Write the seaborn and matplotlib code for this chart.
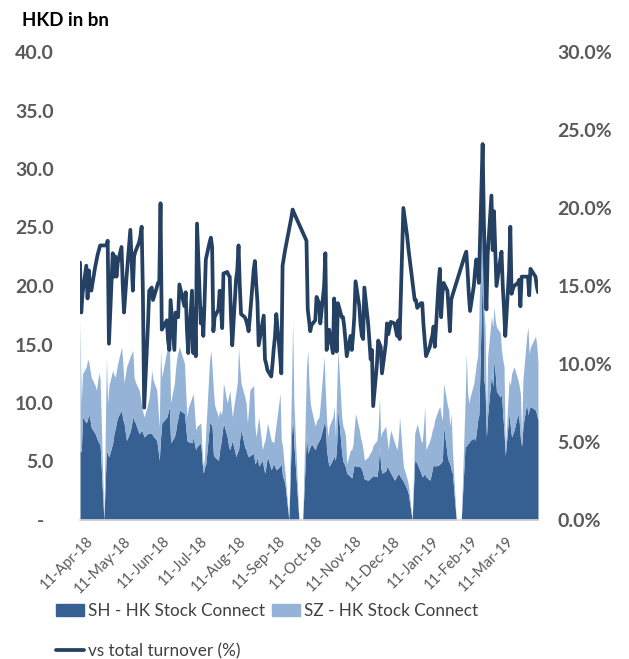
"""
plot.py
Northbound Stock Connect daily turnover (SH / SZ, HKD bn) with share of total turnover.
"""

import numpy as np
import pandas as pd
import matplotlib
matplotlib.use("Agg")
import matplotlib.pyplot as plt
import matplotlib.dates as mdates
from matplotlib.ticker import FuncFormatter
from matplotlib.patches import Patch
from matplotlib.lines import Line2D
from matplotlib.transforms import ScaledTranslation
import seaborn as sns

SH_COLOR   = "#376092"
SZ_COLOR   = "#95B3D7"
LINE_COLOR = "#244062"
TICK_COLOR = "#595959"

# HK market holidays (weekdays) in the window; northbound-closed days stay in with zeros
HK_HOLIDAYS = ["2018-05-01", "2018-05-22", "2018-06-18", "2018-07-02", "2018-09-25",
               "2018-10-01", "2018-10-17", "2018-12-25", "2018-12-26", "2019-01-01",
               "2019-02-05", "2019-02-06", "2019-02-07", "2019-04-05"]
XTICKS = ["2018-04-11", "2018-05-11", "2018-06-11", "2018-07-11", "2018-08-11",
          "2018-09-11", "2018-10-11", "2018-11-11", "2018-12-11", "2019-01-11",
          "2019-02-11", "2019-03-11"]

nan = np.nan

# SH - HK Stock Connect, HKD bn (one value per trading day, month by month)
sh = [
    6.0, 5.8, 8.8, 8.3, 8.6, 9.1, 8.5, 7.9, 7.4, 7.1, 6.8, 6.6, 6.4, 0,                        # Apr-18
    6.0, 5.6, 5.4, 6.6, 7.4, 7.8, 8.4, 8.8, 9.4, 8.6, 8.3, 7.5, 6.8, 7.6, 8.8, 8.5, 8.3, 7.4,
    7.5, 7.7, 7.4,                                                                          # May-18
    7.1, 7.4, 7.4, 7.4, 7.4, 7.2, 6.8, 6.0, 5.1, 7.0, 8.3, 8.8, 9.2, 9.7, 6.6, 7.1, 7.6, 8.3,
    8.8, 9.4,                                                                               # Jun-18
    9.1, 8.0, 6.8, 6.7, 6.6, 7.1, 6.5, 6.0, 6.3, 6.6, 5.0, 4.0, 4.5, 4.8, 8.3, 8.2, 8.0, 5.6,
    5.4, 5.1, 6.0,                                                                          # Jul-18
    6.6, 7.5, 8.3, 7.1, 6.4, 6.0, 6.4, 6.8, 5.4, 5.8, 6.0, 7.0, 7.7, 6.2, 6.0, 5.6, 5.4, 5.5,
    5.7, 4.8, 5.0, 5.4, 4.6,                                                                # Aug-18
    5.1, 4.4, 4.0, 4.8, 5.4, 4.3, 4.6, 4.8, 4.5, 4.3, 4.6, 4.8, 3.7, 3.5, 3.0, 0, 7.0, 9.0,
    6.5,                                                                                    # Sep-18
    0, 0, 0, 0, 7.4, 5.7, 6.0, 6.3, 6.5, 6.0, 6.4, 6.8, 7.0, 8.3, 8.0, 6.0, 5.1, 4.6, 5.2,
    5.5, 5.1,                                                                               # Oct-18
    6.5, 9.5, 5.7, 5.0, 4.8, 4.5, 4.0, 3.7, 3.6, 4.2, 4.8, 4.6, 4.6, 4.5, 4.3, 3.9, 3.5, 3.4,
    3.5, 3.6, 3.7, 3.8,                                                                     # Nov-18
    3.7, 4.5, 6.3, 4.5, 4.0, 4.2, 4.6, 4.4, 4.2, 4.0, 3.4, 3.6, 3.8, 4.0, 3.8, 3.3, 2.6, 2.2,
    0,                                                                                      # Dec-18
    5.1, 5.0, 4.8, 4.0, 3.7, 3.8, 4.0, 3.7, 3.4, 3.8, 4.4, 4.8, 4.6, 4.7, 4.8, 4.9, 5.1, 8.0,
    5.4, 5.0, 4.8, 4.3,                                                                     # Jan-19
    4.0, 0, 0, 6.3, 6.3, 6.5, 6.6, 6.8, 7.0, 6.8, 7.5, 8.5, 9.0, 22.5, 12.0, 11.0, 7.1,      # Feb-19
    9.0, 12.5, 11.4, 13.7, 12.5, 11.0, 10.5, 10.8, 9.0, 7.5, 5.5, 9.1, 8.0, 7.1, 7.4, 7.7,
    9.1, 8.5, 7.0, 6.3, 8.0,                                                                # Mar-19
    10.0, 9.0, 9.5, 9.7, 9.4, 9.0, 8.5,                                                     # Apr-19
]

# SZ - HK Stock Connect, HKD bn
sz = [
    11.1, 4.2, 3.7, 4.8, 5.1, 4.4, 4.3, 4.3, 4.1, 4.0, 5.0, 6.0, 5.6, 0,
    7.9, 4.4, 6.1, 6.2, 5.0, 4.4, 4.4, 4.6, 5.4, 4.9, 3.4, 4.9, 6.3, 6.4, 5.7, 3.7, 3.5, 3.7,
    3.0, 2.0, 1.8,
    1.7, 2.6, 3.1, 4.1, 5.4, 4.8, 4.3, 3.5, 2.8, 7.5, 3.9, 5.7, 5.8, 5.9, 3.4, 4.6, 5.4, 5.6,
    5.6, 5.4,
    4.3, 3.0, 2.0, 2.9, 3.9, 3.7, 2.7, 1.7, 1.7, 1.7, 1.0, 0.5, 0.9, 2.9, 5.4, 6.3, 5.0, 5.5,
    4.4, 3.7, 3.4,
    2.4, 1.9, 3.4, 2.9, 4.1, 5.1, 3.6, 2.0, 5.6, 5.9, 8.8, 6.0, 4.0, 4.3, 4.0, 2.7, 4.1, 5.6,
    5.8, 3.2, 2.1, 2.6, 4.2,
    0.9, 2.1, 2.8, 2.7, 2.9, 2.5, 2.1, 1.8, 3.0, 4.0, 6.2, 2.0, 2.6, 1.5, 1.0, 0, 4.0, 8.0,
    3.5,
    0, 0, 0, 0, 5.6, 8.8, 5.7, 3.7, 2.9, 2.0, 2.1, 2.0, 3.0, 5.7, 3.0, 2.5, 2.0, 3.4, 3.6,
    4.2, 2.0,
    4.5, 5.0, 3.1, 3.0, 2.9, 2.7, 0.8, 2.3, 2.4, 2.3, 3.2, 4.5, 3.1, 2.5, 2.3, 2.1, 1.6, 2.0,
    2.1, 2.2, 2.3, 2.6,
    3.1, 3.5, 4.2, 2.6, 3.5, 3.8, 2.4, 1.6, 2.8, 3.7, 3.2, 2.7, 2.2, 3.0, 5.0, 1.3, 0.9, 0.8,
    0,
    2.3, 2.8, 3.4, 2.8, 2.9, 4.2, 5.7, 2.3, 3.4, 3.4, 3.3, 3.2, 4.0, 4.8, 4.9, 4.1, 3.4, 3.7,
    4.4, 4.4, 3.2, 4.8,
    2.0, 0, 0, 3.7, 7.9, 4.5, 3.4, 3.7, 4.7, 5.7, 5.9, 5.5, 8.1, 10.5, 6.0, 5.5, 1.4,
    5.0, 4.9, 5.1, 4.5, 4.6, 5.5, 5.5, 3.7, 4.7, 5.6, 0.5, 2.9, 3.5, 5.4, 5.4, 5.4, 2.9, 3.0,
    3.8, 0.7, 4.0,
    5.7, 7.5, 4.7, 5.1, 6.3, 6.0, 4.9,
]

# vs total turnover (%), right axis; nan where northbound was closed
pct = [
    16.5, 13.3, 14.5, 16.3, 14.2, 16.0, 14.9, 14.7, 16.2, 16.6, 17.0, 17.3, 17.6, nan,
    17.6, 17.9, 11.3, 17.1, 15.6, 16.9, 15.6, 16.5, 17.5, 15.0, 13.3, 14.5, 15.6, 18.6, 14.7,
    16.9, 17.2, 17.8, 18.2, 18.8, 14.5,
    7.2, 12.5, 14.7, 14.8, 14.9, 14.1, 14.9, 15.2, 15.2, 20.3, 12.2, 12.8, 11.5, 10.9, 14.1,
    10.9, 13.3, 13.1, 13.0, 15.1,
    13.7, 14.6, 12.2, 10.7, 14.7, 10.7, 13.5, 10.5, 19.0, 12.6, 13.5, 11.8, 14.0, 16.7, 17.8,
    18.1, 17.5, 12.1, 13.0, 13.5, 14.7,
    13.5, 12.3, 15.8, 15.9, 15.7, 15.6, 13.0, 11.2, 15.4, 16.0, 17.6, 15.0, 13.2, 13.0, 12.8,
    12.5, 12.1, 13.0, 16.0, 16.6, 15.2, 14.0, 11.2,
    12.6, 13.1, 10.3, 10.0, 9.6, 9.2, 10.0, 11.0, 11.8, 13.2, 10.5, 9.4, 16.3, 16.8, 17.3,
    nan, 19.4, 19.9, 19.7,
    nan, nan, nan, nan, 17.9, 13.5, 12.8, 12.1, 12.5, 12.8, 14.3, 13.9, 12.6, 15.0, 17.1,
    10.9, 11.5, 12.2, 10.7, 14.2, 12.8,
    10.8, 13.9, 13.0, 13.0, 12.4, 11.5, 10.5, 11.8, 10.9, 11.8, 13.0, 15.3, 13.7, 12.5, 11.8,
    11.6, 14.9, 12.6, 11.5, 10.3, 10.9, 7.3,
    10.0, 11.5, 11.3, 11.1, 9.4, 11.3, 12.6, 11.9, 12.3, 12.7, 12.6, 12.2, 11.8, 12.8, 11.6,
    20.0, 18.2, 17.4, nan,
    14.1, 14.1, 13.6, 13.9, 13.9, 12.5, 11.5, 10.5, 11.1, 11.5, 11.8, 12.4, 11.1, 15.2, 16.1,
    13.0, 14.5, 15.2, 14.7, 13.5, 12.1, 14.1,
    14.4, nan, nan, 17.0, 17.2, 16.0, 14.5, 13.4, 15.0, 16.0, 16.7, 16.2, 15.2, 24.1, 19.0,
    16.0, 13.5,
    17.0, 20.8, 17.3, 19.8, 17.5, 15.0, 16.7, 17.2, 15.0, 13.5, 11.8, 16.0, 18.8, 14.5, 14.8,
    15.0, 15.2, 15.4, 13.7, 15.6, 15.6,
    15.6, 15.6, 14.4, 16.1, 15.6, 15.0, 14.6,
]

dates = pd.bdate_range("2018-04-11", "2019-04-10")
dates = dates[~dates.isin(pd.to_datetime(HK_HOLIDAYS))]

df = pd.DataFrame({"date": dates, "sh": sh, "sz": sz, "pct": pct})
df["top"] = df["sh"] + df["sz"]

sns.set_theme(style="white")
plt.rcParams["font.family"] = ["Lato", "DejaVu Sans"]

fig = plt.figure(figsize=(6.29, 6.59), dpi=100)
ax = fig.add_axes([80 / 629, 139 / 659, 458 / 629, 468 / 659])

ax.fill_between(df["date"], 0, df["sh"], color=SH_COLOR, lw=0)
ax.fill_between(df["date"], df["sh"], df["top"], color=SZ_COLOR, lw=0)

ax2 = ax.twinx()
# Excel-style: line bridges the days with no value
sns.lineplot(data=df.dropna(subset=["pct"]), x="date", y="pct", ax=ax2,
             color=LINE_COLOR, lw=2.7)

ax.set_xlim(df["date"].iloc[0], df["date"].iloc[-1])
ax.set_ylim(0, 40)
ax2.set_ylim(0, 30)
ax.set_yticks(np.arange(0, 41, 5))
ax2.set_yticks(np.arange(0, 31, 5))
ax.yaxis.set_major_formatter(FuncFormatter(lambda v, p: "-  " if v == 0 else f"{v:.1f}"))
ax2.yaxis.set_major_formatter(FuncFormatter(lambda v, p: f"{v:.1f}%"))

ax.set_xticks(pd.to_datetime(XTICKS))
ax.xaxis.set_major_formatter(mdates.DateFormatter("%d-%b-%y"))
ax.tick_params(axis="x", length=0, pad=10, labelsize=10.5, labelcolor=TICK_COLOR)
ax.tick_params(axis="y", length=0, pad=19, labelsize=14, labelcolor=TICK_COLOR)
ax2.tick_params(axis="y", length=0, pad=14, labelsize=14, labelcolor=TICK_COLOR)

shift = ScaledTranslation(4 / 72, 0, fig.dpi_scale_trans)
for lab in ax.get_xticklabels():
    lab.set_rotation(45)
    lab.set_ha("right")
    lab.set_rotation_mode("anchor")
    lab.set_transform(lab.get_transform() + shift)
for lab in ax.get_yticklabels() + ax2.get_yticklabels():
    lab.set_fontweight("bold")

for a in (ax, ax2):
    for s in a.spines.values():
        s.set_visible(False)
    a.set_xlabel("")
    a.set_ylabel("")
ax.spines["bottom"].set_visible(True)
ax.spines["bottom"].set_color("#D9D9D9")
ax.spines["bottom"].set_linewidth(1.2)
ax.grid(False)
ax2.grid(False)

fig.text(22 / 629, 1 - 20 / 659, "HKD in bn", fontsize=13.5, fontweight="bold",
         color="black", va="center", ha="left")

handles = [Patch(color=SH_COLOR, label="SH - HK Stock Connect"),
           Line2D([0], [0], color=LINE_COLOR, lw=2.7, label="vs total turnover (%)"),
           Patch(color=SZ_COLOR, label="SZ - HK Stock Connect")]
fig.legend(handles=handles, ncol=2, loc="upper left",
           bbox_to_anchor=(56 / 629, 1 - 603 / 659), frameon=False,
           fontsize=12.3, labelcolor="#404040", handlelength=1.65,
           handleheight=0.7, handletextpad=0.2, columnspacing=0.45,
           labelspacing=1.4, borderaxespad=0, borderpad=0)

fig.savefig("out.png", dpi=100)
